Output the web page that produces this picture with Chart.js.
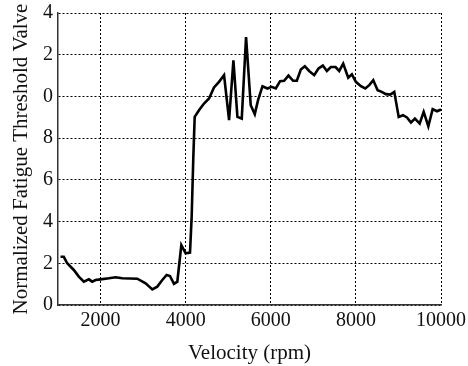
<!DOCTYPE html>
<html>
<head>
<meta charset="utf-8">
<script src="https://cdn.jsdelivr.net/npm/chart.js@4"></script>
<style>
  html, body { margin: 0; padding: 0; background: #fff; }
  #wrap { width: 468px; height: 366px; }
</style>
</head>
<body>
<div id="wrap"><canvas id="myChart"></canvas></div>
<script>
const velocity = [1059, 1136, 1216, 1372, 1489, 1607, 1725, 1804, 1882, 2000, 2196, 2353, 2510, 2863, 3059, 3216, 3333, 3451, 3553, 3631, 3725, 3804, 3898, 4000, 4102, 4141, 4180, 4212, 4313, 4431, 4549, 4666, 4784, 4902, 5020, 5122, 5216, 5318, 5419, 5529, 5624, 5701, 5805, 5922, 6016, 6118, 6219, 6313, 6416, 6525, 6612, 6706, 6800, 6902, 7020, 7122, 7224, 7318, 7412, 7522, 7608, 7702, 7820, 7906, 8000, 8118, 8220, 8314, 8408, 8511, 8605, 8706, 8808, 8902, 9006, 9106, 9200, 9294, 9388, 9499, 9593, 9702, 9804, 9906, 10000];
const threshold = [0.231, 0.231, 0.200, 0.168, 0.136, 0.112, 0.123, 0.112, 0.120, 0.123, 0.128, 0.133, 0.128, 0.126, 0.104, 0.075, 0.088, 0.120, 0.144, 0.139, 0.101, 0.112, 0.287, 0.248, 0.251, 0.423, 0.710, 0.902, 0.934, 0.966, 0.990, 1.043, 1.070, 1.102, 0.886, 1.173, 0.902, 0.894, 1.285, 0.958, 0.915, 0.982, 1.049, 1.038, 1.046, 1.038, 1.073, 1.075, 1.100, 1.075, 1.075, 1.129, 1.145, 1.122, 1.102, 1.134, 1.148, 1.122, 1.141, 1.141, 1.122, 1.157, 1.090, 1.106, 1.070, 1.049, 1.038, 1.054, 1.078, 1.030, 1.022, 1.011, 1.009, 1.022, 0.902, 0.910, 0.899, 0.875, 0.894, 0.870, 0.926, 0.857, 0.939, 0.929, 0.937];
const xTicks = [2000, 4000, 6000, 8000, 10000];
const yTicks = [0, 0.2, 0.4, 0.6, 0.8, 1.0, 1.2, 1.4];
const yTickLabels = ["0", "2", "4", "6", "8", "0", "2", "4"];

function grafico_linea(){
    const ctx = document.getElementById("myChart");
    const serif = "'Liberation Serif', 'Times New Roman', serif";
    new Chart(ctx, {
        type: "line",
        data: {
            datasets: [
                {
                    data: velocity.map((v, i) => ({x: v, y: threshold[i]})),
                    borderColor: "#000",
                    borderWidth: 2.6,
                    pointRadius: 0,
                    tension: 0,
                    fill: false,
                },
            ],
        },
        options: {
            responsive: true,
            maintainAspectRatio: false,
            animation: false,
            layout: { padding: { top: 13, right: 27, left: 0, bottom: 0 } },
            plugins: { legend: { display: false }, tooltip: { enabled: false } },
            scales: {
                x: {
                    type: "linear",
                    min: 1000,
                    max: 10000,
                    afterBuildTicks: (axis) => { axis.ticks = xTicks.map(v => ({value: v})); },
                    afterFit: (scale) => {
                        scale.height = 61;
                        scale.paddingLeft = 0;
                        scale.paddingRight = 0;
                    },
                    grid: { color: "#000", lineWidth: 1, drawTicks: false },
                    border: { color: "#333", width: 1.5, dash: [2, 2] },
                    ticks: {
                        color: "#111",
                        font: { family: serif, size: 20 },
                        padding: 4,
                        maxRotation: 0,
                        callback: (value) => String(value),
                    },
                    title: { display: true, text: "Velocity (rpm)", color: "#111", font: { family: serif, size: 21 }, padding: { top: 0, bottom: 0 } },
                },
                y: {
                    min: 0,
                    max: 1.4,
                    afterBuildTicks: (axis) => { axis.ticks = yTicks.map(v => ({value: v})); },
                    afterFit: (scale) => {
                        scale.width = 58;
                        scale.paddingTop = 0;
                        scale.paddingBottom = 0;
                    },
                    grid: { color: "#000", lineWidth: 1, drawTicks: false },
                    border: { color: "#333", width: 1.5, dash: [2, 2] },
                    ticks: {
                        color: "#111",
                        font: { family: serif, size: 20 },
                        padding: 5,
                        callback: (value, index) => yTickLabels[index],
                    },
                    title: { display: true, text: "Normalized Fatigue Threshold Valve", color: "#111", font: { family: serif, size: 21 }, padding: { top: 9, bottom: 0 } },
                },
            },
        },
    });
}
grafico_linea()
</script>
</body>
</html>
